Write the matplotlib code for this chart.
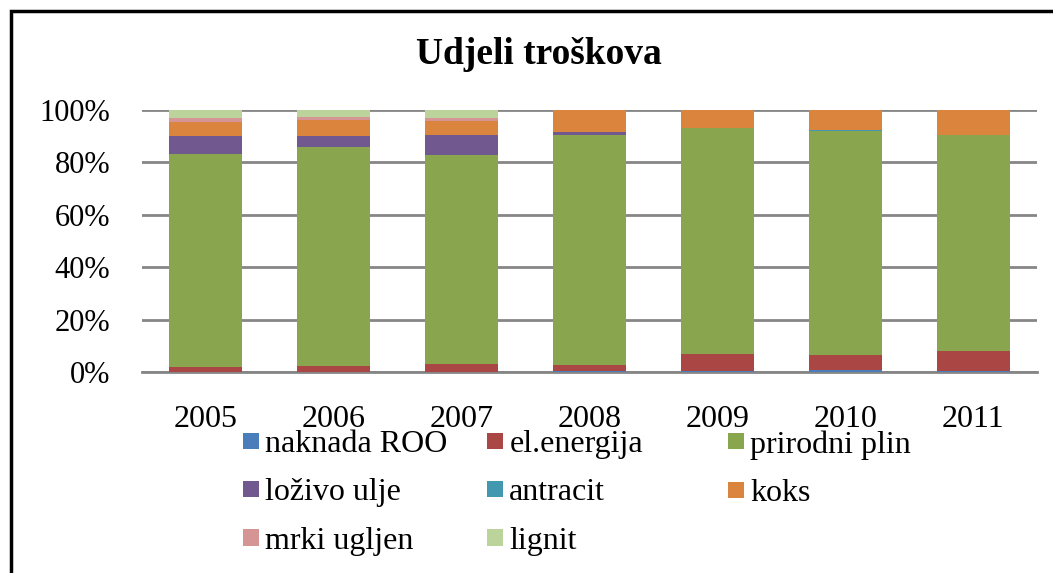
import matplotlib
matplotlib.use("Agg")
import matplotlib.pyplot as plt
from matplotlib.patches import Patch, Rectangle
import numpy as np

plt.rcParams['font.family'] = ['Liberation Serif', 'DejaVu Serif']

years = ['2005', '2006', '2007', '2008', '2009', '2010', '2011']
series_names = ['naknada ROO', 'el.energija', 'prirodni plin', 'loživo ulje',
                'antracit', 'koks', 'mrki ugljen', 'lignit']
colors = ['#4A7EBB', '#AA4643', '#89A54E', '#71588F', '#4198AF', '#DB843D',
          '#D69595', '#BCD39B']

naknada_roo = [0.1, 0.1, 0.1, 0.3, 0.5, 0.8, 0.3]
el_energija = [1.8, 2.2, 3.0, 2.5, 6.3, 5.6, 7.6]
prirodni_plin = [81.4, 83.6, 79.8, 87.6, 86.4, 85.6, 82.4]
lozivo_ulje = [6.5, 4.0, 7.3, 1.3, 0.0, 0.0, 0.0]
antracit = [0.0, 0.0, 0.0, 0.0, 0.0, 0.5, 0.0]
koks = [5.6, 6.3, 5.6, 8.3, 6.8, 7.5, 9.7]
mrki_ugljen = [1.6, 1.2, 1.2, 0.0, 0.0, 0.0, 0.0]
lignit = [2.9, 2.5, 2.9, 0.0, 0.0, 0.0, 0.0]

data = [naknada_roo, el_energija, prirodni_plin, lozivo_ulje, antracit,
        koks, mrki_ugljen, lignit]
y_ticks = [0, 20, 40, 60, 80, 100]
y_labels = ['0%', '20%', '40%', '60%', '80%', '100%']

W, H = 1053, 573
fig = plt.figure(figsize=(W / 100, H / 100), dpi=100)
ax = fig.add_axes([142 / W, 1 - 372 / H, (1037 - 142) / W, (372 - 110) / H])

x = np.arange(len(years))
vals = np.array(data, dtype=float)
totals = vals.sum(axis=0)
pct = vals / totals * 100
bottom = np.zeros(len(years))
for name, v, c in zip(series_names, pct, colors):
    ax.bar(x, v, bottom=bottom, width=0.57, color=c, label=name, zorder=3,
           edgecolor='none')
    bottom += v

ax.set_xlim(-0.5, len(years) - 0.5)
ax.set_ylim(0, 100)
ax.set_yticks(y_ticks)
ax.set_yticklabels(y_labels)
ax.set_xticks(x)
ax.set_xticklabels(years)
ax.tick_params(axis='y', length=0, pad=23, labelsize=22)
ax.tick_params(axis='x', length=0, pad=24, labelsize=23)
ax.yaxis.grid(True, color='#868686', linewidth=2, zorder=0)
for s in ['top', 'right', 'left']:
    ax.spines[s].set_visible(False)
ax.spines['bottom'].set_color('#868686')
ax.spines['bottom'].set_linewidth(2)

fig.text(539 / W, 1 - 55 / H, 'Udjeli troškova', ha='center', va='center',
         fontsize=27, fontweight='bold')

# legend: three columns, row-major order
cols_x = [243, 487, 728]
for ci in range(3):
    idx = list(range(ci, len(series_names), 3))
    handles = [Patch(facecolor=colors[i], edgecolor='none') for i in idx]
    labels = [series_names[i] for i in idx]
    fig.legend(handles, labels, loc='upper left',
               bbox_to_anchor=(cols_x[ci] / W, 1 - 430 / H),
               frameon=False, fontsize=23, handlelength=0.5,
               handleheight=0.4, handletextpad=0.2, labelspacing=0.61,
               borderpad=0, borderaxespad=0)

# outer frame
fig.patches.append(Rectangle((10.5 / W, -0.1), 1.2, (H - 10.5) / H + 0.1,
                             transform=fig.transFigure, fill=False,
                             edgecolor='black', linewidth=2.5))

fig.savefig('out.png', dpi=100)
